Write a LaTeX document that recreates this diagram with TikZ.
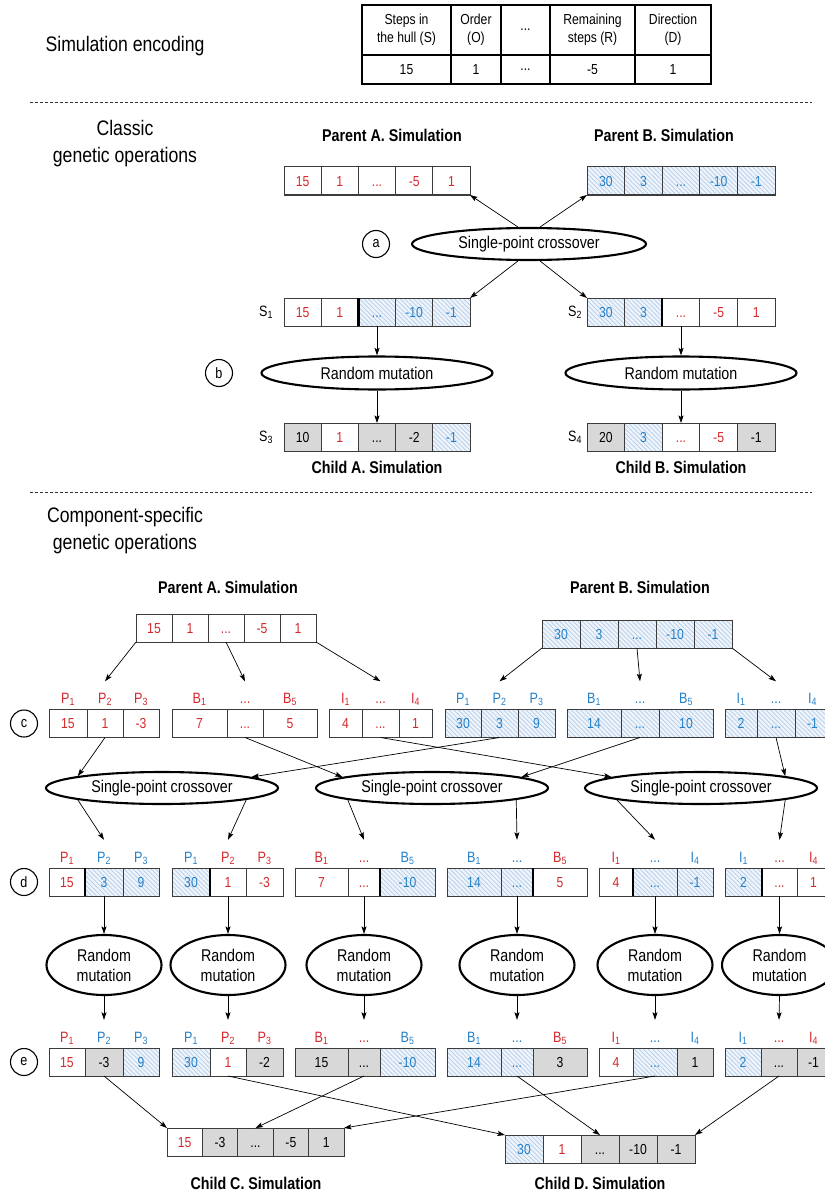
\documentclass[tikz,border=0pt]{standalone}
\usepackage{fontspec}
\setmainfont{Liberation Sans}[FakeStretch=0.84]
\usetikzlibrary{shapes.geometric,arrows.meta,patterns.meta}

\definecolor{cred}{RGB}{212,40,44}
\definecolor{cblue}{RGB}{36,128,200}
\definecolor{cgray}{RGB}{216,216,216}
\definecolor{cbord}{RGB}{60,60,60}
\definecolor{hatchbg}{RGB}{238,244,251}
\definecolor{hatchln}{RGB}{180,204,230}

\newcommand\fhead{\fontsize{21}{27}\selectfont}
\newcommand\ftitle{\bfseries\fontsize{17}{20}\selectfont}
\newcommand\fcell{\fontsize{14.5}{17}\selectfont}
\newcommand\ftab{\fontsize{14.5}{18}\selectfont}
\newcommand\fell{\fontsize{17}{20}\selectfont}
\newcommand\flab{\fontsize{15}{18}\selectfont}

\tikzset{
  cell/.style={draw=cbord, line width=1pt, minimum height=28pt, inner sep=0pt, outer sep=0pt,
    font=\fcell, text height=10.5pt, text depth=0pt},
  rc/.style={text=cred},
  bc/.style={text=cblue, preaction={fill=hatchbg},
    preaction={pattern={Lines[angle=-45,distance=3.2pt,line width=0.7pt]}, pattern color=hatchln}},
  gc/.style={fill=cgray, text=black},
  kc/.style={text=black},
  tcell/.style={draw=black, line width=1.1pt, inner sep=0pt, outer sep=0pt, align=center, font=\ftab},
  lab/.style={inner sep=0pt, font=\flab, text height=10.5pt, text depth=2.5pt},
  slab/.style={inner sep=0pt, font=\flab},
  hd/.style={inner sep=0pt, font=\fhead, align=center},
  ttl/.style={inner sep=0pt, font=\ftitle},
  ell/.style={ellipse, draw=black, line width=2.1pt, inner sep=0pt, font=\fell, align=center},
  xell/.style={ell, minimum width=232pt, minimum height=32pt},
  mell/.style={ell, minimum width=115pt, minimum height=60pt},
  lett/.style={circle, draw=black, line width=1.1pt, minimum size=27pt, inner sep=0pt, font=\flab},
  arr/.style={draw=black, line width=0.7pt, -{Stealth[length=7.5pt,width=5pt,inset=1.5pt]}},
  div/.style={draw=black, line width=2.2pt},
  sep/.style={draw=black!80, line width=0.8pt, dash pattern=on 3pt off 2pt},
}

% one gene cell: name, left x, right x, centre y, style, value
\newcommand\cel[6]{\node[cell,#5,minimum width={#3-#2}] (#1) at ({(#2+#3)/2},#4) {#6};}
% gene cell with a component label above it: ..., label colour, label text
\newcommand\celL[8]{\cel{#1}{#2}{#3}{#4}{#5}{#6}%
  \node[lab,text=#7] (#1l) at ([yshift=10pt]#1.north) {#8};}
\newcommand\tip[1]{([yshift=11.5pt]#1.north)}

\begin{document}
\begin{tikzpicture}[x=1pt,y=-1pt]
\useasboundingbox (0,0) rectangle (824,1193);

% ---------------- encoding table ----------------
\node[hd] (hEnc) at (125,46) {Simulation encoding};
\node[tcell, minimum width=89, minimum height=50] (t1) at (406.5,30) {Steps in\\the hull (S)};
\node[tcell, minimum width=50, minimum height=50] (t2) at (476,30) {Order\\(O)};
\node[tcell, minimum width=49, minimum height=50] (t3) at (525.5,30) {...};
\node[tcell, minimum width=85, minimum height=50] (t4) at (592.5,30) {Remaining\\steps (R)};
\node[tcell, minimum width=76, minimum height=50] (t5) at (673,30) {Direction\\(D)};
\node[tcell, minimum width=89, minimum height=29] (v1) at (406.5,69.5) {15};
\node[tcell, minimum width=50, minimum height=29] (v2) at (476,69.5) {1};
\node[tcell, minimum width=49, minimum height=29] (v3) at (525.5,69.5) {...};
\node[tcell, minimum width=85, minimum height=29] (v4) at (592.5,69.5) {-5};
\node[tcell, minimum width=76, minimum height=29] (v5) at (673,69.5) {1};

\draw[sep] (30,102) -- (812,102);

% ---------------- classic operations ----------------
\node[hd] (hCl) at (125,144) {Classic\\genetic operations};
\node[ttl] (tPA) at (392,135) {Parent A. Simulation};
\node[ttl] (tPB) at (664,135) {Parent B. Simulation};

\cel{pA1}{284}{321.2}{181}{rc}{15}
\cel{pA2}{321.2}{358.4}{181}{rc}{1}
\cel{pA3}{358.4}{395.6}{181}{rc}{...}
\cel{pA4}{395.6}{432.8}{181}{rc}{-5}
\cel{pA5}{432.8}{470}{181}{rc}{1}
\cel{pB1}{587}{624.6}{181}{bc}{30}
\cel{pB2}{624.6}{662.2}{181}{bc}{3}
\cel{pB3}{662.2}{699.8}{181}{bc}{...}
\cel{pB4}{699.8}{737.4}{181}{bc}{-10}
\cel{pB5}{737.4}{775}{181}{bc}{-1}

\node[lett] (la) at (376,244) {a};
\node[xell, minimum width=234pt] (xa) at (529,244) {Single-point crossover};

\node[slab] (lS1) at (266,312) {S\textsubscript{1}};
\cel{sA1}{284}{321.2}{312}{rc}{15}
\cel{sA2}{321.2}{358.4}{312}{rc}{1}
\cel{sA3}{358.4}{395.6}{312}{bc}{...}
\cel{sA4}{395.6}{432.8}{312}{bc}{-10}
\cel{sA5}{432.8}{470}{312}{bc}{-1}
\node[slab] (lS2) at (575,312) {S\textsubscript{2}};
\cel{sB1}{587}{624.6}{312}{bc}{30}
\cel{sB2}{624.6}{662.2}{312}{bc}{3}
\cel{sB3}{662.2}{699.8}{312}{rc}{...}
\cel{sB4}{699.8}{737.4}{312}{rc}{-5}
\cel{sB5}{737.4}{775}{312}{rc}{1}
\draw[div] (sA3.north west) -- (sA3.south west);
\draw[div] (sB3.north west) -- (sB3.south west);

\node[lett] (lb) at (219,373) {b};
\node[ell, minimum width=231pt, minimum height=33pt] (ma) at (377,373) {Random mutation};
\node[ell, minimum width=231pt, minimum height=33pt] (mb) at (681,373) {Random mutation};

\node[slab] (lS3) at (266,437) {S\textsubscript{3}};
\cel{sC1}{284}{321.2}{437}{gc}{10}
\cel{sC2}{321.2}{358.4}{437}{rc}{1}
\cel{sC3}{358.4}{395.6}{437}{gc}{...}
\cel{sC4}{395.6}{432.8}{437}{gc}{-2}
\cel{sC5}{432.8}{470}{437}{bc}{-1}
\node[slab] (lS4) at (575,437) {S\textsubscript{4}};
\cel{sD1}{587}{624.6}{437}{gc}{20}
\cel{sD2}{624.6}{662.2}{437}{bc}{3}
\cel{sD3}{662.2}{699.8}{437}{rc}{...}
\cel{sD4}{699.8}{737.4}{437}{rc}{-5}
\cel{sD5}{737.4}{775}{437}{gc}{-1}

\node[ttl] (tCA) at (377,467) {Child A. Simulation};
\node[ttl] (tCB) at (681,467) {Child B. Simulation};

\draw[arr] (xa.123) -- (pA5.south east);
\draw[arr] (xa.57) -- (pB1.south west);
\draw[arr] (xa.237) -- (sA5.north east);
\draw[arr] (xa.303) -- (sB1.north west);
\draw[arr] (sA3.south) -- (ma.north);
\draw[arr] (ma.south) -- (sC3.north);
\draw[arr] (sB3.south) -- (mb.north);
\draw[arr] (mb.south) -- (sD3.north);

\draw[sep] (30,492) -- (812,492);

% ---------------- component-specific operations ----------------
\node[hd] (hCo) at (125,531) {Component-specific\\genetic operations};
\node[ttl] (tPA2) at (228,587) {Parent A. Simulation};
\node[ttl] (tPB2) at (640,587) {Parent B. Simulation};

\cel{PA1}{136}{172}{628}{rc}{15}
\cel{PA2}{172}{208}{628}{rc}{1}
\cel{PA3}{208}{244}{628}{rc}{...}
\cel{PA4}{244}{280}{628}{rc}{-5}
\cel{PA5}{280}{316}{628}{rc}{1}
\cel{PB1}{542}{580}{634}{bc}{30}
\cel{PB2}{580}{618}{634}{bc}{3}
\cel{PB3}{618}{656}{634}{bc}{...}
\cel{PB4}{656}{694}{634}{bc}{-10}
\cel{PB5}{694}{732}{634}{bc}{-1}

% row c: parents split by component
\node[lett] (lc) at (24,723.5) {c};
\celL{cAP1}{49}{87}{723.5}{rc}{15}{cred}{P\textsubscript{1}}
\celL{cAP2}{87}{123}{723.5}{rc}{1}{cred}{P\textsubscript{2}}
\celL{cAP3}{123}{159}{723.5}{rc}{-3}{cred}{P\textsubscript{3}}
\celL{cAB1}{172}{227}{723.5}{rc}{7}{cred}{B\textsubscript{1}}
\celL{cAB2}{227}{263}{723.5}{rc}{...}{cred}{...}
\celL{cAB3}{263}{317}{723.5}{rc}{5}{cred}{B\textsubscript{5}}
\celL{cAI1}{329}{362}{723.5}{rc}{4}{cred}{I\textsubscript{1}}
\celL{cAI2}{362}{399}{723.5}{rc}{...}{cred}{...}
\celL{cAI3}{399}{432}{723.5}{rc}{1}{cred}{I\textsubscript{4}}
\celL{cBP1}{445}{481}{723.5}{bc}{30}{cblue}{P\textsubscript{1}}
\celL{cBP2}{481}{518}{723.5}{bc}{3}{cblue}{P\textsubscript{2}}
\celL{cBP3}{518}{555}{723.5}{bc}{9}{cblue}{P\textsubscript{3}}
\celL{cBB1}{567}{621}{723.5}{bc}{14}{cblue}{B\textsubscript{1}}
\celL{cBB2}{621}{659}{723.5}{bc}{...}{cblue}{...}
\celL{cBB3}{659}{713}{723.5}{bc}{10}{cblue}{B\textsubscript{5}}
\celL{cBI1}{725}{757}{723.5}{bc}{2}{cblue}{I\textsubscript{1}}
\celL{cBI2}{757}{795}{723.5}{bc}{...}{cblue}{...}
\celL{cBI3}{795}{830}{723.5}{bc}{-1}{cblue}{I\textsubscript{4}}

\draw[arr] (PA1.south west) -- \tip{cAP2l};
\draw[arr] (PA3.south) -- \tip{cAB2l};
\draw[arr] (PA5.south east) -- \tip{cAI2l};
\draw[arr] (PB1.south west) -- \tip{cBP2l};
\draw[arr] (PB3.south) -- \tip{cBB2l};
\draw[arr] (PB5.south east) -- \tip{cBI2l};

% crossover per component
\node[xell] (x1) at (162,788) {Single-point crossover};
\node[xell] (x2) at (432,788) {Single-point crossover};
\node[xell] (x3) at (701,788) {Single-point crossover};

\draw[arr] (cAP2.south) -- (x1.172);
\draw[arr] (cBP2.south) -- (x1.7);
\draw[arr] (cAB2.south) -- (x2.173);
\draw[arr] (cBB2.south) -- (x2.7);
\draw[arr] (cAI2.south) -- (x3.173);
\draw[arr] (cBI2.south) -- (x3.8);

% row d: crossed components
\node[lett] (ld) at (24,882) {d};
\celL{d11}{49}{85}{882}{rc}{15}{cred}{P\textsubscript{1}}
\celL{d12}{85}{123}{882}{bc}{3}{cblue}{P\textsubscript{2}}
\celL{d13}{123}{159}{882}{bc}{9}{cblue}{P\textsubscript{3}}
\celL{d21}{172}{210}{882}{bc}{30}{cblue}{P\textsubscript{1}}
\celL{d22}{210}{246}{882}{rc}{1}{cred}{P\textsubscript{2}}
\celL{d23}{246}{283}{882}{rc}{-3}{cred}{P\textsubscript{3}}
\celL{d31}{295}{348}{882}{rc}{7}{cred}{B\textsubscript{1}}
\celL{d32}{348}{380}{882}{rc}{...}{cred}{...}
\celL{d33}{380}{435}{882}{bc}{-10}{cblue}{B\textsubscript{5}}
\celL{d41}{447}{501}{882}{bc}{14}{cblue}{B\textsubscript{1}}
\celL{d42}{501}{533}{882}{bc}{...}{cblue}{...}
\celL{d43}{533}{587}{882}{rc}{5}{cred}{B\textsubscript{5}}
\celL{d51}{599}{633}{882}{rc}{4}{cred}{I\textsubscript{1}}
\celL{d52}{633}{677}{882}{bc}{...}{cblue}{...}
\celL{d53}{677}{713}{882}{bc}{-1}{cblue}{I\textsubscript{4}}
\celL{d61}{725}{762}{882}{bc}{2}{cblue}{I\textsubscript{1}}
\celL{d62}{762}{797}{882}{rc}{...}{cred}{...}
\celL{d63}{797}{830}{882}{rc}{1}{cred}{I\textsubscript{4}}
\draw[div] (d12.north west) -- (d12.south west);
\draw[div] (d22.north west) -- (d22.south west);
\draw[div] (d33.north west) -- (d33.south west);
\draw[div] (d43.north west) -- (d43.south west);
\draw[div] (d52.north west) -- (d52.south west);
\draw[div] (d62.north west) -- (d62.south west);

\draw[arr] (x1.188) -- \tip{d12l};
\draw[arr] (x1.352) -- \tip{d22l};
\draw[arr] (x2.188) -- \tip{d32l};
\draw[arr] (x2.352) -- \tip{d42l};
\draw[arr] (x3.188) -- \tip{d52l};
\draw[arr] (x3.352) -- \tip{d62l};

% mutation per component
\node[mell] (m1) at (104,965) {Random\\mutation};
\node[mell] (m2) at (228,965) {Random\\mutation};
\node[mell] (m3) at (364,965) {Random\\mutation};
\node[mell] (m4) at (517,965) {Random\\mutation};
\node[mell] (m5) at (655,965) {Random\\mutation};
\node[mell] (m6) at (779.5,965) {Random\\mutation};

\draw[arr] (d12.south) -- (m1.north);
\draw[arr] (d22.south) -- (m2.north);
\draw[arr] (d32.south) -- (m3.north);
\draw[arr] (d42.south) -- (m4.north);
\draw[arr] (d52.south) -- (m5.north);
\draw[arr] (d62.south) -- (m6.north);

% row e: mutated components
\node[lett] (le) at (24,1062) {e};
\celL{e11}{49}{85}{1062}{rc}{15}{cred}{P\textsubscript{1}}
\celL{e12}{85}{123}{1062}{gc}{-3}{cblue}{P\textsubscript{2}}
\celL{e13}{123}{159}{1062}{bc}{9}{cblue}{P\textsubscript{3}}
\celL{e21}{172}{210}{1062}{bc}{30}{cblue}{P\textsubscript{1}}
\celL{e22}{210}{246}{1062}{rc}{1}{cred}{P\textsubscript{2}}
\celL{e23}{246}{283}{1062}{gc}{-2}{cred}{P\textsubscript{3}}
\celL{e31}{295}{348}{1062}{gc}{15}{cred}{B\textsubscript{1}}
\celL{e32}{348}{380}{1062}{gc}{...}{cred}{...}
\celL{e33}{380}{435}{1062}{bc}{-10}{cblue}{B\textsubscript{5}}
\celL{e41}{447}{501}{1062}{bc}{14}{cblue}{B\textsubscript{1}}
\celL{e42}{501}{533}{1062}{bc}{...}{cblue}{...}
\celL{e43}{533}{587}{1062}{gc}{3}{cred}{B\textsubscript{5}}
\celL{e51}{599}{633}{1062}{rc}{4}{cred}{I\textsubscript{1}}
\celL{e52}{633}{677}{1062}{bc}{...}{cblue}{...}
\celL{e53}{677}{713}{1062}{gc}{1}{cblue}{I\textsubscript{4}}
\celL{e61}{725}{761}{1062}{bc}{2}{cblue}{I\textsubscript{1}}
\celL{e62}{761}{797}{1062}{gc}{...}{cred}{...}
\celL{e63}{797}{830}{1062}{gc}{-1}{cred}{I\textsubscript{4}}

\draw[arr] (m1.south) -- \tip{e12l};
\draw[arr] (m2.south) -- \tip{e22l};
\draw[arr] (m3.south) -- \tip{e32l};
\draw[arr] (m4.south) -- \tip{e42l};
\draw[arr] (m5.south) -- \tip{e52l};
\draw[arr] (m6.south) -- \tip{e62l};

% children assembled from the components
\cel{kC1}{167}{202.4}{1142}{rc}{15}
\cel{kC2}{202.4}{237.8}{1142}{gc}{-3}
\cel{kC3}{237.8}{273.2}{1142}{gc}{...}
\cel{kC4}{273.2}{308.6}{1142}{gc}{-5}
\cel{kC5}{308.6}{344}{1142}{gc}{1}
\cel{kD1}{505}{543}{1149}{bc}{30}
\cel{kD2}{543}{581}{1149}{rc}{1}
\cel{kD3}{581}{619}{1149}{gc}{...}
\cel{kD4}{619}{657}{1149}{gc}{-10}
\cel{kD5}{657}{695}{1149}{gc}{-1}

\draw[arr] (e12.south) -- (kC1.north west);
\draw[arr] (e32.south) -- (kC3.north);
\draw[arr] (e52.south) -- (kC5.north east);
\draw[arr] (e22.south) -- (kD1.north west);
\draw[arr] (e42.south) -- (kD3.north);
\draw[arr] (e62.south) -- (kD5.north east);

\node[ttl] (tCC) at (256,1183) {Child C. Simulation};
\node[ttl] (tCD) at (600,1183) {Child D. Simulation};
\end{tikzpicture}
\end{document}
